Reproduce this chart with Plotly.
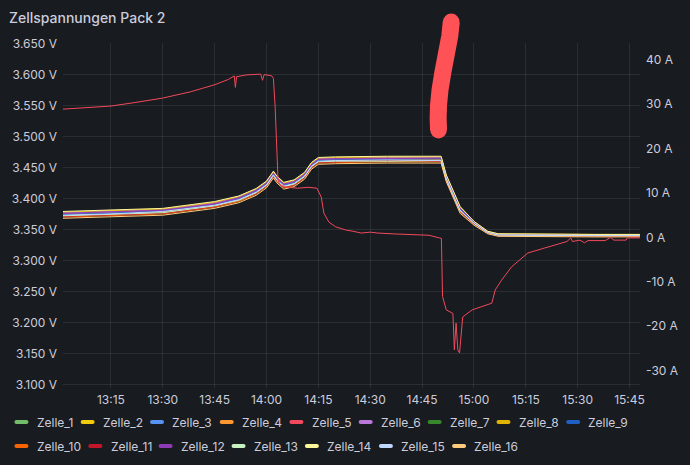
import plotly.graph_objects as go

DAY = "2023-06-01 "

# ---- data ----
CELL_TIMES = ["13:01", "13:15", "13:30", "13:45", "13:52", "13:57", "14:00", "14:02", "14:03",
              "14:05", "14:08", "14:11", "14:13", "14:15", "14:20", "14:35", "14:50:30", "14:52",
              "14:54", "14:56", "15:00", "15:04", "15:07", "15:20", "15:35", "15:48"]

ZELLE_1 = [3.374, 3.376, 3.379, 3.390, 3.399, 3.411, 3.423, 3.439, 3.431, 3.421, 3.425, 3.437, 3.453, 3.461, 3.462, 3.463, 3.463, 3.433, 3.406, 3.382, 3.361, 3.345, 3.341, 3.340, 3.340, 3.340]
ZELLE_2 = [3.371, 3.373, 3.376, 3.387, 3.396, 3.408, 3.420, 3.436, 3.428, 3.418, 3.422, 3.434, 3.450, 3.458, 3.459, 3.460, 3.460, 3.430, 3.403, 3.379, 3.359, 3.344, 3.340, 3.339, 3.339, 3.339]
ZELLE_3 = [3.375, 3.377, 3.380, 3.391, 3.400, 3.412, 3.424, 3.440, 3.432, 3.422, 3.426, 3.438, 3.454, 3.462, 3.463, 3.464, 3.464, 3.434, 3.407, 3.383, 3.361, 3.346, 3.342, 3.341, 3.341, 3.341]
ZELLE_4 = [3.373, 3.375, 3.378, 3.389, 3.398, 3.410, 3.422, 3.438, 3.430, 3.420, 3.424, 3.436, 3.452, 3.460, 3.461, 3.462, 3.462, 3.432, 3.405, 3.381, 3.360, 3.345, 3.341, 3.340, 3.340, 3.340]
ZELLE_5 = [3.376, 3.378, 3.381, 3.392, 3.401, 3.413, 3.425, 3.441, 3.433, 3.423, 3.427, 3.439, 3.455, 3.463, 3.464, 3.465, 3.465, 3.435, 3.408, 3.384, 3.362, 3.346, 3.342, 3.341, 3.341, 3.341]
ZELLE_6 = [3.377, 3.379, 3.382, 3.393, 3.402, 3.414, 3.426, 3.442, 3.434, 3.424, 3.428, 3.440, 3.456, 3.464, 3.465, 3.466, 3.466, 3.436, 3.409, 3.385, 3.362, 3.346, 3.342, 3.341, 3.341, 3.341]
ZELLE_7 = [3.372, 3.374, 3.377, 3.388, 3.397, 3.409, 3.421, 3.437, 3.429, 3.419, 3.423, 3.435, 3.451, 3.459, 3.460, 3.461, 3.461, 3.431, 3.404, 3.380, 3.360, 3.345, 3.341, 3.340, 3.340, 3.340]
ZELLE_8 = [3.378, 3.380, 3.383, 3.394, 3.403, 3.415, 3.427, 3.443, 3.435, 3.425, 3.429, 3.441, 3.457, 3.465, 3.466, 3.467, 3.467, 3.437, 3.410, 3.386, 3.363, 3.347, 3.343, 3.342, 3.342, 3.342]
ZELLE_9 = [3.374, 3.376, 3.380, 3.390, 3.399, 3.411, 3.423, 3.439, 3.431, 3.421, 3.425, 3.437, 3.453, 3.461, 3.462, 3.463, 3.464, 3.433, 3.406, 3.382, 3.361, 3.345, 3.341, 3.340, 3.340, 3.340]
ZELLE_10 = [3.370, 3.372, 3.375, 3.386, 3.395, 3.407, 3.419, 3.435, 3.427, 3.417, 3.421, 3.433, 3.449, 3.457, 3.458, 3.459, 3.459, 3.429, 3.402, 3.378, 3.358, 3.344, 3.340, 3.339, 3.339, 3.339]
ZELLE_11 = [3.371, 3.373, 3.376, 3.387, 3.397, 3.408, 3.420, 3.436, 3.428, 3.418, 3.422, 3.434, 3.450, 3.458, 3.459, 3.461, 3.460, 3.430, 3.403, 3.379, 3.359, 3.344, 3.340, 3.339, 3.339, 3.339]
ZELLE_12 = [3.376, 3.378, 3.381, 3.391, 3.401, 3.413, 3.425, 3.441, 3.433, 3.423, 3.427, 3.439, 3.455, 3.463, 3.464, 3.464, 3.465, 3.435, 3.408, 3.384, 3.362, 3.346, 3.342, 3.341, 3.341, 3.341]
ZELLE_13 = [3.372, 3.374, 3.377, 3.388, 3.397, 3.409, 3.421, 3.437, 3.429, 3.419, 3.423, 3.435, 3.451, 3.459, 3.460, 3.460, 3.461, 3.431, 3.404, 3.380, 3.360, 3.345, 3.341, 3.340, 3.340, 3.340]
ZELLE_14 = [3.379, 3.381, 3.384, 3.395, 3.404, 3.416, 3.428, 3.444, 3.436, 3.426, 3.430, 3.442, 3.458, 3.466, 3.467, 3.468, 3.468, 3.438, 3.411, 3.387, 3.363, 3.347, 3.343, 3.342, 3.342, 3.342]
ZELLE_15 = [3.373, 3.375, 3.379, 3.389, 3.398, 3.410, 3.422, 3.438, 3.430, 3.420, 3.424, 3.436, 3.452, 3.460, 3.461, 3.462, 3.461, 3.432, 3.405, 3.381, 3.360, 3.345, 3.341, 3.340, 3.340, 3.340]
ZELLE_16 = [3.368, 3.370, 3.373, 3.384, 3.393, 3.405, 3.417, 3.433, 3.425, 3.415, 3.419, 3.431, 3.447, 3.455, 3.456, 3.457, 3.457, 3.427, 3.400, 3.376, 3.357, 3.343, 3.339, 3.338, 3.338, 3.338]

CELL_NAMES = ["Zelle_1", "Zelle_2", "Zelle_3", "Zelle_4", "Zelle_5", "Zelle_6", "Zelle_7", "Zelle_8",
              "Zelle_9", "Zelle_10", "Zelle_11", "Zelle_12", "Zelle_13", "Zelle_14", "Zelle_15", "Zelle_16"]
CELL_VALUES = [ZELLE_1, ZELLE_2, ZELLE_3, ZELLE_4, ZELLE_5, ZELLE_6, ZELLE_7, ZELLE_8,
               ZELLE_9, ZELLE_10, ZELLE_11, ZELLE_12, ZELLE_13, ZELLE_14, ZELLE_15, ZELLE_16]

CURRENT_TIMES = ["13:01:00", "13:08:00", "13:15:00", "13:22:00", "13:30:00", "13:38:00", "13:45:00",
                 "13:49:00", "13:50:40", "13:51:00", "13:51:20", "13:54:00", "13:58:20", "13:58:50",
                 "13:59:20", "14:01:30", "14:02:00", "14:02:30", "14:03:00", "14:03:20", "14:03:55",
                 "14:06:00", "14:09:00", "14:12:00", "14:14:35", "14:15:50", "14:16:35", "14:18:00",
                 "14:20:00", "14:22:50", "14:25:00", "14:27:25", "14:30:00", "14:32:10", "14:37:00",
                 "14:42:35", "14:47:00", "14:50:00", "14:50:35", "14:50:55", "14:52:00", "14:53:55",
                 "14:54:20", "14:54:50", "14:55:20", "14:55:50", "14:56:45", "14:59:30", "15:05:10",
                 "15:06:10", "15:08:00", "15:10:55", "15:15:35", "15:20:20", "15:26:55", "15:28:00",
                 "15:28:30", "15:30:40", "15:32:00", "15:33:00", "15:38:00", "15:39:30", "15:40:30",
                 "15:44:00", "15:44:20", "15:48:00"]
CURRENT = [28.9, 29.2, 29.6, 30.4, 31.4, 32.8, 34.4,
           35.6, 36.4, 33.8, 36.2, 36.6, 36.8, 35.4,
           36.7, 36.4, 35.8, 29.4, 19.7, 13.0, 11.8,
           11.3, 11.1, 11.3, 11.1, 9.1, 5.5, 3.5,
           2.4, 1.7, 1.4, 1.0, 1.2, 1.0, 0.8,
           0.6, 0.5, -0.1, -0.2, -13.3, -16.3, -17.1,
           -25.3, -19.3, -25.3, -26.0, -17.9, -16.3, -14.8,
           -11.8, -9.6, -6.6, -3.5, -2.4, -0.9, -0.1,
           -0.9, -0.6, -1.2, -0.7, -0.7, 0.0, -0.6,
           -0.6, -0.1, -0.1]

COLORS = ["#73BF69", "#F2CC0C", "#5794F2", "#FF9830", "#F2495C", "#B877D9", "#37872D", "#E0B400",
          "#1F60C4", "#FA6400", "#C4162A", "#8F3BB8", "#C8F2C2", "#FFF899", "#C0D8FF", "#FFCB7D"]
CURRENT_COLOR = "#F2495C"

V_TICKS = [3.100, 3.150, 3.200, 3.250, 3.300, 3.350, 3.400, 3.450, 3.500, 3.550, 3.600, 3.650]
A_TICKS = [-30, -20, -10, 0, 10, 20, 30, 40]

# ---- layout constants ----
W, H = 690, 465
PL, PR, PT, PB = 58, 648, 43, 388
BG = "#181b1f"
TXT = "#ccccdc"
GRID = "rgba(204,204,220,0.10)"
FONT = "Inter, Noto Sans, sans-serif"


def px(x):
    return (x - PL) / (PR - PL)


def py(y):
    return (PB - y) / (PB - PT)


fig = go.Figure()

fig.add_trace(go.Scatter(
    x=[DAY + t for t in CURRENT_TIMES], y=CURRENT, yaxis="y2", mode="lines",
    line=dict(color=CURRENT_COLOR, width=1), showlegend=False, name="Strom"))

for name, vals, col in zip(CELL_NAMES, CELL_VALUES, COLORS):
    fig.add_trace(go.Scatter(
        x=[DAY + t for t in CELL_TIMES], y=vals, mode="lines", name=name,
        line=dict(color=col, width=1), showlegend=False))

# ---- custom Grafana-style legend ----
LEGEND_ROWS = [
    (422, [30, 97.7, 168.6, 239.9, 311.2, 382, 452.5, 522.9, 594.2]),
    (446, [30, 105.6, 177.4, 252, 327, 402.7, 477.5]),
]
shapes = []
annotations = []
k = 0
for ry, xs in LEGEND_ROWS:
    for tx in xs:
        shapes.append(dict(
            type="path", xref="paper", yref="paper", xsizemode="pixel", ysizemode="pixel",
            xanchor=px(tx - 14.5), yanchor=py(ry),
            path="M-5,-2 L5,-2 Q7,-2 7,0 Q7,2 5,2 L-5,2 Q-7,2 -7,0 Q-7,-2 -5,-2 Z",
            fillcolor=COLORS[k], line=dict(width=0), layer="above"))
        annotations.append(dict(
            x=px(tx - 1), y=py(ry), xref="paper", yref="paper", xanchor="left", yanchor="middle",
            text=CELL_NAMES[k], showarrow=False, font=dict(family=FONT, size=12, color=TXT)))
        k += 1

# ---- hand-drawn red marker overlay ----
STROKE = [(455, 22), (453.5, 36), (450, 54), (446.5, 72), (443.5, 90), (442, 105), (441.6, 118), (442, 130)]
path = "M " + " L ".join(f"{px(a):.5f},{py(b):.5f}" for a, b in STROKE)
STROKE_COLOR = "#ff5257"
SW = 17
shapes.append(dict(type="path", xref="paper", yref="paper", path=path,
                   line=dict(color=STROKE_COLOR, width=SW), layer="above"))
for a, b in (STROKE[0], STROKE[-1]):
    r = SW / 2
    shapes.append(dict(type="circle", xref="paper", yref="paper",
                       x0=px(a - r), x1=px(a + r), y0=py(b + r), y1=py(b - r),
                       fillcolor=STROKE_COLOR, line=dict(width=0), layer="above"))

fig.update_layout(
    width=W, height=H,
    paper_bgcolor=BG, plot_bgcolor=BG,
    margin=dict(l=PL, r=W - PR, t=PT, b=H - PB, pad=0),
    font=dict(family=FONT, size=12, color=TXT),
    title=dict(text="Zellspannungen Pack 2", xref="container", yref="container",
               x=9 / W, y=1 - 18 / H, xanchor="left", yanchor="middle",
               font=dict(family=FONT, size=14, color=TXT, weight=500)),
    showlegend=False,
    shapes=shapes,
    annotations=annotations,
    xaxis=dict(
        type="date",
        range=[DAY + "13:01:08", DAY + "15:48:02"],
        tick0=DAY + "13:00", dtick=15 * 60 * 1000, tickformat="%H:%M",
        showgrid=True, gridcolor=GRID, gridwidth=1, zeroline=False, showline=False,
        ticks="", ticklabelstandoff=3, tickfont=dict(family=FONT, size=12, color=TXT)),
    yaxis=dict(
        range=[3.0945, 3.6505], tickvals=V_TICKS,
        ticktext=[f"{v:.3f} V" for v in V_TICKS],
        showgrid=True, gridcolor=GRID, gridwidth=1, zeroline=False, showline=False,
        ticks="", ticklabelstandoff=5, tickfont=dict(family=FONT, size=12, color=TXT)),
    yaxis2=dict(
        range=[-33.9, 43.8], overlaying="y", side="right", tickvals=A_TICKS,
        ticktext=[f"{v} A" for v in A_TICKS],
        showgrid=False, zeroline=False, showline=False,
        ticks="", ticklabelstandoff=5, tickfont=dict(family=FONT, size=12, color=TXT)),
)

fig.write_html("out.html", config={"displayModeBar": False})

# remove default page margin so the 690x465 figure fills the window exactly
with open("out.html", encoding="utf-8") as f:
    html = f.read()
html = html.replace("<head>", "<head><style>html,body{margin:0;padding:0;background:#181b1f;overflow:hidden}</style>", 1)
with open("out.html", "w", encoding="utf-8") as f:
    f.write(html)
